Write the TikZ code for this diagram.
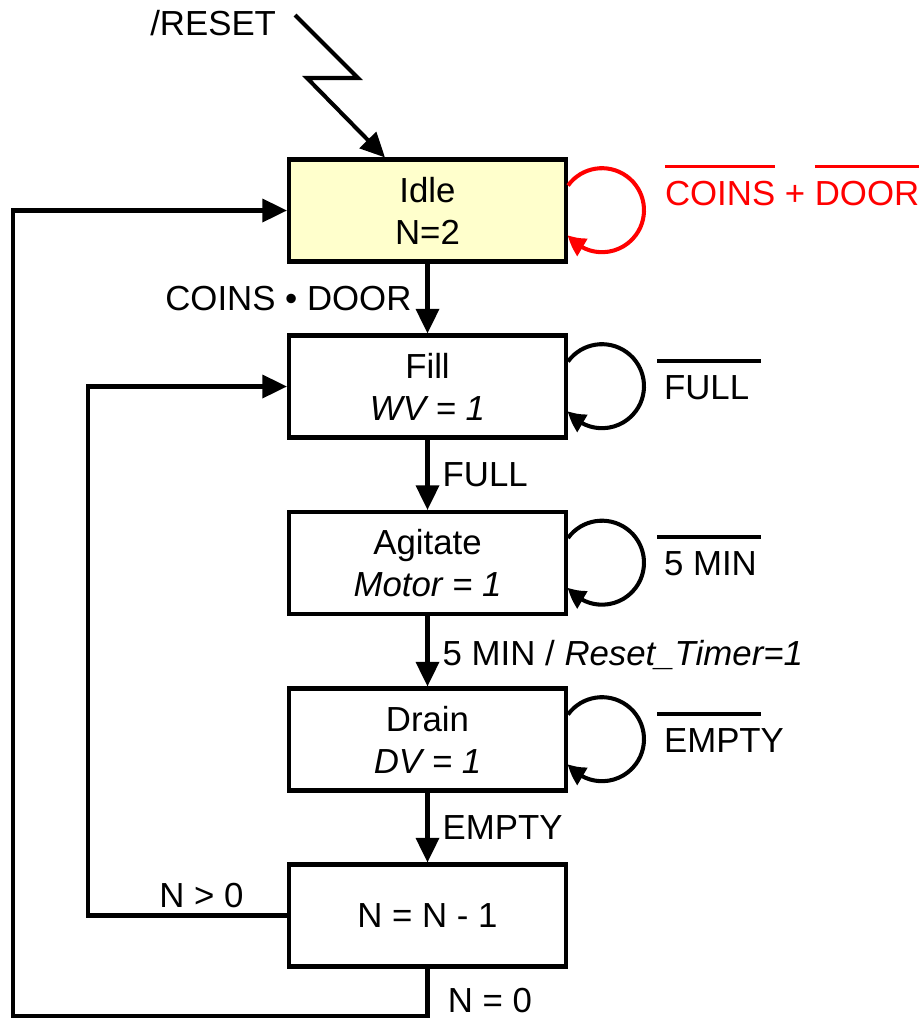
\documentclass[tikz,border=0pt]{standalone}
\usepackage{fontspec}
\setmainfont{Liberation Sans}
\usetikzlibrary{arrows.meta,bending}
\definecolor{idlefill}{RGB}{255,255,204}
\newcommand{\ovl}[1]{\vbox{\hrule height 2.2pt\kern 7pt\hbox to 59pt{\hskip 4pt #1\hss}}}
\newcommand{\ovw}[1]{\vbox{\hrule height 2.2pt\kern 7pt\hbox{#1}}}

\begin{document}
\begin{tikzpicture}[
    font=\fontsize{19.8}{24}\selectfont,
    every path/.style={line width=2.3pt},
    arr/.style={-{Triangle[length=14pt,width=13pt]}},
    self/.style={-{Triangle[length=11pt,width=11pt,bend]}},
    state/.style={draw=black,minimum width=5.54cm,minimum height=2.04cm,inner sep=0pt,align=center},
    cond/.style={anchor=base west,inner sep=0pt},
    lbl/.style={inner sep=7.5pt},
    ]
    \useasboundingbox (0,0) rectangle (18.42,-20.4);
    \node[state,fill=idlefill] (idle) at (8.55,-4.21) {Idle\\N=2};
    \node[state] (fill) at (8.55,-7.73) {Fill\\\textit{WV = 1}};
    \node[state] (agit) at (8.55,-11.26) {Agitate\\\textit{Motor = 1}};
    \node[state] (drain) at (8.55,-14.79) {Drain\\\textit{DV = 1}};
    \node[state] (dec) at (8.55,-18.31) {N = N - 1};
    \node[anchor=base east,inner sep=0pt] (rst) at (5.56,-0.7) {/RESET};
    \coordinate (rstart) at (5.9,-0.3);
    \draw[arr] (rstart) -- ++(1.26,-1.26) -- ++(-1.02,0) -- ([xshift=-0.85cm]idle.north);
    \draw[arr] (idle) -- (fill) node[midway, left, inner sep=8pt] {COINS • DOOR};
    \draw[arr] (fill) -- (agit) node[midway, right, lbl] {FULL};
    \draw[arr] (agit) -- (drain) node[midway, right, lbl, yshift=-2pt] {5 MIN / \textit{Reset\_Timer=1}};
    \draw[arr] (drain) -- (dec) node[midway, right, lbl] {EMPTY};
    \draw[arr] (dec.west) -- node[above, pos=0.43] {N > 0} ++(-3.98,0) |- (fill.west);
    \draw[arr] (dec.south) -- node[pos=0.68, right, lbl, xshift=3pt] {N = 0} ++(0,-0.94) -- ++(-8.29,0) |- (idle.west);
    \draw[self,red] ([yshift=0.5cm]idle.east) arc[start angle=144, end angle=-144, radius=0.84cm];
    \draw[self] ([yshift=0.5cm]fill.east) arc[start angle=144, end angle=-144, radius=0.84cm];
    \draw[self] ([yshift=0.5cm]agit.east) arc[start angle=144, end angle=-144, radius=0.84cm];
    \draw[self] ([yshift=0.5cm]drain.east) arc[start angle=144, end angle=-144, radius=0.84cm];
    \node[cond,red] (lidle) at (13.26,-4.1) {\ovw{COINS} + \ovw{DOOR}};
    \node[cond] (lfill) at ([xshift=1.74cm,yshift=-0.25cm]fill.east) {\ovl{FULL}};
    \node[cond] (lagit) at ([xshift=1.74cm,yshift=-0.25cm]agit.east) {\ovl{5 MIN}};
    \node[cond] (ldrain) at ([xshift=1.74cm,yshift=-0.25cm]drain.east) {\ovl{EMPTY}};
\end{tikzpicture}
\end{document}
